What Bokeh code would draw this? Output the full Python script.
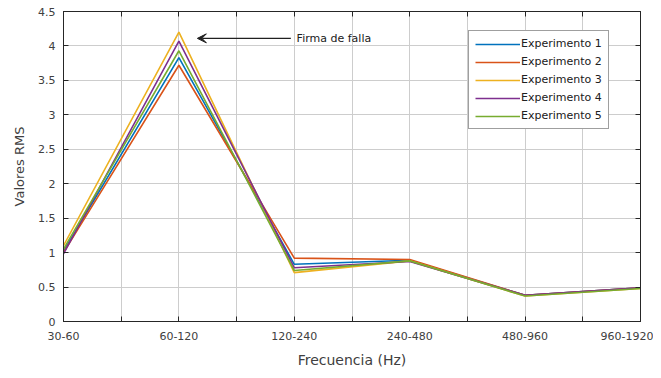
from bokeh.plotting import figure
from bokeh.models import (FixedTicker, LinearAxis, Range1d, Legend, LegendItem,
                          Arrow, VeeHead, Label, CustomJSTickFormatter)
from bokeh.embed import file_html
from bokeh.resources import INLINE

categories = ["30-60", "60-120", "120-240", "240-480", "480-960", "960-1920"]
exp1 = [1.02, 3.83, 0.83, 0.89, 0.38, 0.49]
exp2 = [1.00, 3.72, 0.92, 0.90, 0.38, 0.49]
exp3 = [1.10, 4.20, 0.71, 0.88, 0.37, 0.48]
exp4 = [0.98, 4.07, 0.78, 0.87, 0.38, 0.49]
exp5 = [1.05, 3.93, 0.74, 0.88, 0.37, 0.48]
series = [exp1, exp2, exp3, exp4, exp5]
series_names = ["Experimento 1", "Experimento 2", "Experimento 3",
                "Experimento 4", "Experimento 5"]
colors = ["#0072BD", "#D95319", "#EDB120", "#7E2F8E", "#77AC30"]
y_ticks = [0, 0.5, 1, 1.5, 2, 2.5, 3, 3.5, 4, 4.5]
y_tick_labels = ["0", "0.5", "1", "1.5", "2", "2.5", "3", "3.5", "4", "4.5"]
annotation_text = "Firma de falla"
annotation_y = 4.11
annotation_tip_x = 1.16
annotation_tail_x = 1.97

x_idx = list(range(len(categories)))
x_minor = [i + 0.5 for i in x_idx[:-1]]

FONT = "DejaVu Sans"
AX = "#262626"
TXT = "#404040"
GRID = "#cdcdcd"

p = figure(width=653, height=370, x_range=Range1d(0, len(categories) - 1),
           y_range=Range1d(0, 4.5), output_backend="svg", toolbar_location=None,
           min_border_left=63, min_border_right=13, min_border_top=11,
           min_border_bottom=46)
p.outline_line_color = AX
p.background_fill_color = "white"

xt = FixedTicker(ticks=x_idx, minor_ticks=x_minor)
yt = FixedTicker(ticks=y_ticks)

p.xaxis[0].ticker = xt
p.xaxis[0].major_label_overrides = {i: c for i, c in zip(x_idx, categories)}
p.yaxis[0].ticker = yt
p.yaxis[0].major_label_overrides = {t: l for t, l in zip(y_ticks, y_tick_labels)}

for ax in p.axis:
    ax.axis_line_color = AX
    ax.major_tick_in = 5
    ax.major_tick_out = 0
    ax.minor_tick_in = 5
    ax.minor_tick_out = 0
    ax.major_tick_line_color = AX
    ax.minor_tick_line_color = AX
    ax.major_label_text_font = FONT
    ax.major_label_text_font_size = "11px"
    ax.major_label_text_color = TXT
    ax.axis_label_text_font = FONT
    ax.axis_label_text_font_style = "normal"
    ax.axis_label_text_color = TXT
p.yaxis.minor_tick_line_color = None
p.xaxis.axis_label = "Frecuencia (Hz)"
p.xaxis.axis_label_text_font_size = "14px"
p.xaxis.major_label_standoff = 10
p.xaxis.axis_label_standoff = 9
p.yaxis.axis_label = "Valores RMS"
p.yaxis.axis_label_text_font_size = "13px"
p.yaxis.major_label_standoff = 8
p.yaxis.axis_label_standoff = 8

blank = CustomJSTickFormatter(code="return ''")
top = LinearAxis(ticker=xt, formatter=blank, axis_line_color=AX,
                 major_tick_in=5, major_tick_out=0, minor_tick_in=5, minor_tick_out=0,
                 major_tick_line_color=AX, minor_tick_line_color=AX,
                 major_label_standoff=0)
right = LinearAxis(ticker=yt, formatter=blank, axis_line_color=AX,
                   major_tick_in=5, major_tick_out=0, minor_tick_line_color=None,
                   major_tick_line_color=AX, major_label_standoff=0)
p.add_layout(top, "above")
p.add_layout(right, "right")

p.xgrid.ticker = xt
p.xgrid.grid_line_color = GRID
p.xgrid.minor_grid_line_color = GRID
p.ygrid.ticker = yt
p.ygrid.grid_line_color = GRID

items = []
for vals, name, col in zip(series, series_names, colors):
    r = p.line(x_idx, vals, line_color=col, line_width=1.6)
    items.append(LegendItem(label=name, renderers=[r]))

legend = Legend(items=items, location=(405, 192), glyph_width=45, glyph_height=12,
                label_height=12, spacing=5, padding=6, label_standoff=1,
                label_text_font=FONT, label_text_font_size="11px",
                label_text_color="#202020", border_line_color="#404040",
                border_line_width=1.5, background_fill_color="white",
                background_fill_alpha=1.0, margin=0)
p.add_layout(legend)

p.add_layout(Arrow(end=VeeHead(size=9, fill_color="#202020", line_color="#202020"),
                   x_start=annotation_tail_x, y_start=annotation_y,
                   x_end=annotation_tip_x, y_end=annotation_y,
                   line_color="#202020", line_width=1.2))
p.add_layout(Label(x=annotation_tail_x + 0.05, y=annotation_y, text=annotation_text,
                   text_font=FONT, text_font_size="11px", text_color="#202020",
                   text_baseline="middle"))

open("out.html", "w").write(file_html(p, INLINE))
